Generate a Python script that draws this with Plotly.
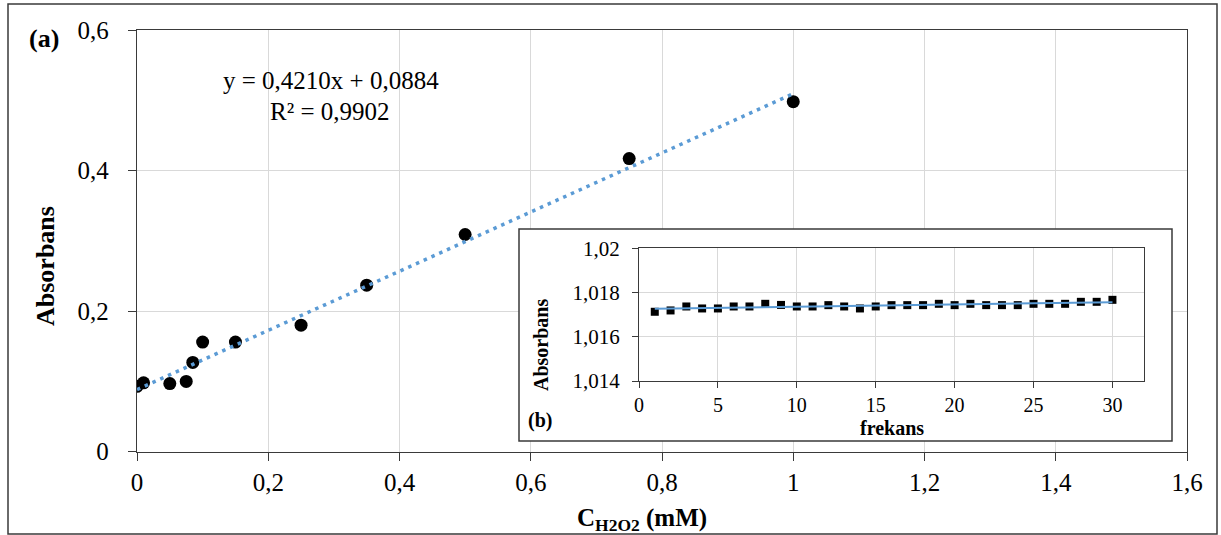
import numpy as np
import plotly.graph_objects as go

# Calibration data: H2O2 concentration (mM) vs absorbance
conc = [0.0, 0.01, 0.05, 0.075, 0.085, 0.10, 0.15, 0.25, 0.35, 0.50, 0.75, 1.00]
absorb = [0.093, 0.098, 0.097, 0.100, 0.127, 0.156, 0.156, 0.180, 0.237, 0.309, 0.417, 0.498]

# Linear trendline reported on the chart
slope = 0.4210
intercept = 0.0884
r_squared = 0.9902
fit_x = [0.0, 1.0]

# Repeatability inset: absorbance over 30 repeated measurements
freq = list(range(1, 31))
freq_abs = [1.01713, 1.01719, 1.01737, 1.01728, 1.01728, 1.01737, 1.01737, 1.01749,
            1.01744, 1.01737, 1.01737, 1.01743, 1.01737, 1.01728, 1.01737, 1.01743,
            1.01743, 1.01743, 1.01749, 1.01743, 1.01749, 1.01743, 1.01743, 1.01743,
            1.01749, 1.01749, 1.01749, 1.01758, 1.01758, 1.01767]

main_xticks = [0, 0.2, 0.4, 0.6, 0.8, 1.0, 1.2, 1.4, 1.6]
main_xtext = ["0", "0,2", "0,4", "0,6", "0,8", "1", "1,2", "1,4", "1,6"]
main_yticks = [0, 0.2, 0.4, 0.6]
main_ytext = ["0", "0,2", "0,4", "0,6"]
inset_xticks = [0, 5, 10, 15, 20, 25, 30]
inset_xtext = ["0", "5", "10", "15", "20", "25", "30"]
inset_yticks = [1.014, 1.016, 1.018, 1.020]
inset_ytext = ["1,014", "1,016", "1,018", "1,02"]

W, H = 1221, 535
SERIF = "Liberation Serif"
AXIS = "#3a3a3a"
GRID = "#d9d9d9"
BLUE = "#5B9BD5"


def px_x(p):
    return p / W


def px_y(p):
    return 1 - p / H


fig = go.Figure()

# Main calibration plot
fig.add_trace(go.Scatter(x=conc, y=absorb, mode="markers",
                         marker=dict(color="black", size=13, symbol="circle"),
                         xaxis="x", yaxis="y", showlegend=False))
fit_y = [slope * v + intercept for v in fit_x]
fig.add_trace(go.Scatter(x=fit_x, y=fit_y, mode="lines",
                         line=dict(color=BLUE, width=3.5, dash="3.5px,5px"),
                         xaxis="x", yaxis="y", showlegend=False))

# Blank subplot acting as the white inset panel
fig.add_trace(go.Scatter(x=[0], y=[0], mode="markers", marker=dict(opacity=0),
                         xaxis="x2", yaxis="y2", showlegend=False, hoverinfo="skip"))

# Inset plot
coef = np.polyfit(freq, freq_abs, 1)
trend_x = [freq[0], freq[-1]]
trend_y = [coef[0] * v + coef[1] for v in trend_x]
fig.add_trace(go.Scatter(x=freq, y=freq_abs, mode="markers",
                         marker=dict(color="black", size=8, symbol="square"),
                         xaxis="x3", yaxis="y3", showlegend=False))
fig.add_trace(go.Scatter(x=trend_x, y=trend_y, mode="lines",
                         line=dict(color=BLUE, width=2),
                         xaxis="x3", yaxis="y3", showlegend=False))

common_axis = dict(showline=True, linecolor=AXIS, linewidth=1.3, mirror=True,
                   showgrid=True, gridcolor=GRID, gridwidth=1, zeroline=False,
                   ticks="outside", tickcolor=AXIS, tickwidth=1.3, automargin=False)

fig.update_layout(
    width=W, height=H, autosize=False,
    margin=dict(l=0, r=0, t=0, b=0, pad=0),
    paper_bgcolor="white", plot_bgcolor="white",
    font=dict(family=SERIF, color="black"),
    xaxis=dict(common_axis, domain=[px_x(137), px_x(1187)], range=[0, 1.6],
               tickvals=main_xticks, ticktext=main_xtext, ticklen=8,
               tickfont=dict(size=25, family=SERIF), ticklabelstandoff=0,
               anchor="y"),
    yaxis=dict(common_axis, domain=[px_y(451.7), px_y(30)], range=[0, 0.6],
               tickvals=main_yticks, ticktext=main_ytext, ticklen=8,
               tickfont=dict(size=25, family=SERIF), ticklabelstandoff=14,
               anchor="x"),
    xaxis2=dict(domain=[px_x(519), px_x(1172)], range=[0, 1], visible=False,
                anchor="y2", fixedrange=True, automargin=False),
    yaxis2=dict(domain=[px_y(441), px_y(229)], range=[0, 1], visible=False,
                anchor="x2", fixedrange=True, automargin=False),
    xaxis3=dict(common_axis, domain=[px_x(639), px_x(1144)], range=[0, 32],
                tickvals=inset_xticks, ticktext=inset_xtext, ticklen=6,
                tickfont=dict(size=20, family=SERIF), ticklabelstandoff=0,
                anchor="y3"),
    yaxis3=dict(common_axis, domain=[px_y(381), px_y(248.3)], range=[1.014, 1.020],
                tickvals=inset_yticks, ticktext=inset_ytext, ticklen=6,
                tickfont=dict(size=21, family=SERIF), ticklabelstandoff=8,
                anchor="x3"),
)

# Inset frame and outer frame
fig.add_shape(type="rect", xref="paper", yref="paper",
              x0=px_x(519), x1=px_x(1172), y0=px_y(441), y1=px_y(229),
              line=dict(color=AXIS, width=1.5), fillcolor="rgba(0,0,0,0)", layer="above")
fig.add_shape(type="rect", xref="paper", yref="paper",
              x0=px_x(8), x1=px_x(1217), y0=px_y(534), y1=px_y(4),
              line=dict(color=AXIS, width=1.5), fillcolor="rgba(0,0,0,0)", layer="above")


def label(text, x, y, size, bold=False, angle=0):
    if bold:
        text = "<b>" + text + "</b>"
    fig.add_annotation(text=text, x=px_x(x), y=px_y(y), xref="paper", yref="paper",
                       showarrow=False, xanchor="center", yanchor="middle",
                       textangle=angle, font=dict(family=SERIF, size=size, color="black"))


label("(a)", 44, 39, 26, bold=True)
label("Absorbans", 45, 266, 26, bold=True, angle=-90)
label("C<sub>H2O2</sub> (mM)", 642, 519, 25, bold=True)
label(f"y = {slope:.4f}x + {intercept:.4f}".replace(".", ","), 331, 80, 25)
label(f"R² = {r_squared:.4f}".replace(".", ","), 330, 111, 25)
label("(b)", 540, 420, 20, bold=True)
label("Absorbans", 541, 345, 20, bold=True, angle=-90)
label("frekans", 892, 428, 20, bold=True)

fig.write_html("out.html")
